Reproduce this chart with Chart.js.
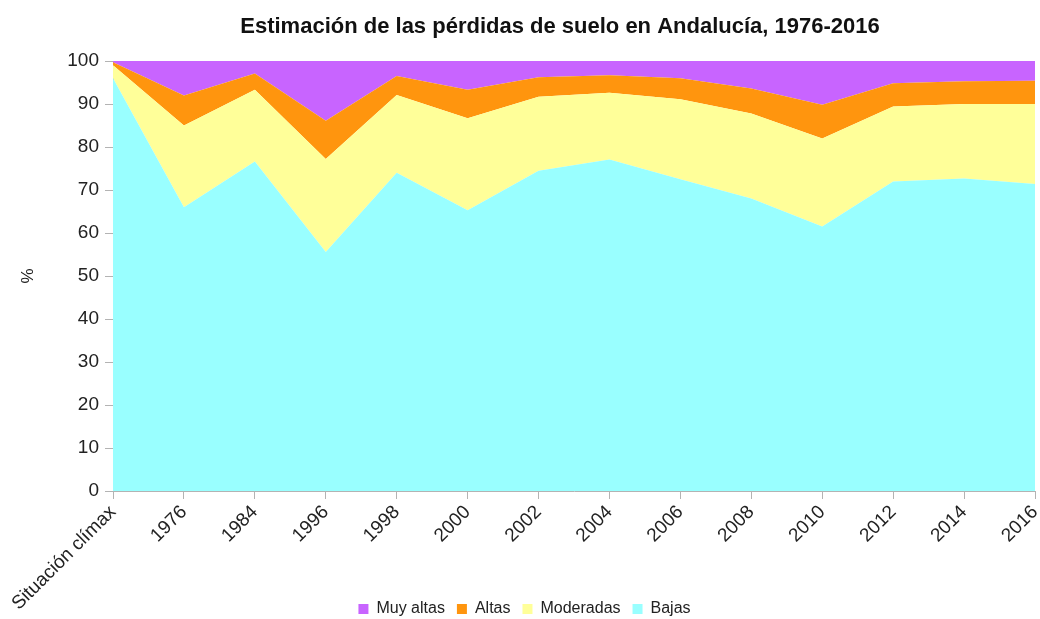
<!DOCTYPE html>
<html>
<head>
<meta charset="utf-8">
<script src="https://cdn.jsdelivr.net/npm/chart.js@4/dist/chart.umd.min.js"></script>
<style>
html,body{margin:0;padding:0;background:#fff;}
#wrap{width:1040px;height:619px;position:relative;}
</style>
</head>
<body>
<div id="wrap"><canvas id="c" width="1040" height="619"></canvas></div>
<script>
// data (percent of surface)
const labels=["Situación clímax","1976","1984","1996","1998","2000","2002","2004","2006","2008","2010","2012","2014","2016"];
const bajas=[96,66,76.6,55.6,74,65.3,74.5,77.1,72.5,68,61.5,72,72.7,71.4];
const moderadas=[3,19,16.7,21.6,18.1,21.4,17.2,15.5,18.6,19.8,20.5,17.4,17.3,18.6];
const altas=[0.7,7,3.8,8.9,4.4,6.6,4.5,4.1,4.9,5.8,7.8,5.4,5.3,5.4];
const muyAltas=[0.3,8,2.9,13.9,3.5,6.7,3.8,3.3,4,6.4,10.2,5.2,4.7,4.6];
const yTicks=[0,10,20,30,40,50,60,70,80,90,100];
const title="Estimación de las pérdidas de suelo en Andalucía, 1976-2016";

const font="'Liberation Sans', Arial, sans-serif";
Chart.defaults.font.family=font;
Chart.defaults.color="#222";

// title drawn over the plot centre
const titlePlugin={id:"t",afterDraw(ch){const c=ch.ctx;c.save();c.font="bold 22px "+font;c.fillStyle="#111";c.textAlign="center";c.textBaseline="middle";c.fillText(title,560,27);c.restore();}};

function ds(label,data,color,fill){return {label,data,backgroundColor:color,borderColor:color,borderWidth:0,pointRadius:0,fill,tension:0};}

const padBottom=-8;

new Chart(document.getElementById("c"),{
  type:"line",
  data:{labels,datasets:[
    ds("Bajas",bajas,"#99ffff","origin"),
    ds("Moderadas",moderadas,"#ffff99","-1"),
    ds("Altas",altas,"#ff950e","-1"),
    ds("Muy altas",muyAltas,"#c864ff","-1")
  ]},
  options:{
    responsive:false,animation:false,
    layout:{padding:{top:61,left:14,right:5,bottom:padBottom}},
    plugins:{
      legend:{position:"bottom",reverse:true,labels:{boxWidth:10,boxHeight:10,padding:12,font:{size:16},color:"#222"}},
      tooltip:{enabled:false}
    },
    scales:{
      x:{stacked:true,offset:false,
        grid:{drawOnChartArea:false,tickLength:8,color:"#b3b3b3"},
        border:{color:"#b3b3b3"},
        ticks:{minRotation:45,maxRotation:45,autoSkip:false,font:{size:19},padding:2,color:"#222"},
        afterFit(s){
          const lh=s.chart.legend?s.chart.legend.height:0;
          s.height=128-padBottom-lh; s.paddingLeft=0; s.paddingRight=0;
          s._computeLabelArea=()=>undefined; // let long labels run under the legend row
        }
      },
      y:{stacked:true,min:0,max:100,
        afterBuildTicks(s){s.ticks=yTicks.map(v=>({value:v}));},
        grid:{drawOnChartArea:false,tickLength:8,color:"#b3b3b3"},
        border:{color:"#b3b3b3"},
        ticks:{font:{size:19},padding:6,color:"#222"},
        title:{display:true,text:"%",font:{size:17},color:"#222"},
        afterFit(s){s.width=99;}
      }
    }
  },
  plugins:[titlePlugin]
});
</script>
</body>
</html>
